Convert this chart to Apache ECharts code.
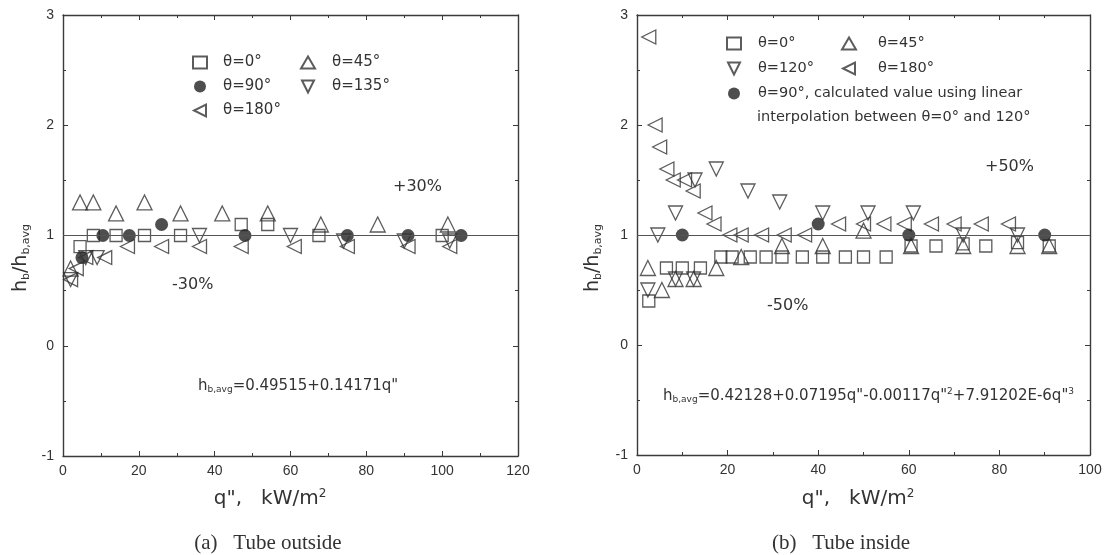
<!DOCTYPE html>
<html>
<head>
<meta charset="utf-8">
<script src="https://cdn.jsdelivr.net/npm/echarts@6/dist/echarts.min.js"></script>
<style>
  html, body { margin: 0; padding: 0; background: #fff; }
  #main { width: 1110px; height: 555px; }
</style>
</head>
<body>
<div id="main"></div>
<script>
// (a) tube outside : [q", hb/hb,avg]
var out0 = [[4.5, 0.9], [8, 1.0], [14, 1.0], [21.5, 1.0], [31, 1.0], [47, 1.1], [54, 1.1], [67.5, 1.0], [100, 1.0]]
var out45 = [[2, 0.7], [4.5, 1.3], [8, 1.3], [14, 1.2], [21.5, 1.3], [31, 1.2], [42, 1.2], [54, 1.2], [68, 1.1], [83, 1.1], [101.5, 1.1]]
var out90 = [[5, 0.8], [10.5, 1.0], [17.5, 1.0], [26, 1.1], [48, 1.0], [75, 1.0], [91, 1.0], [105, 1.0]]
var out135 = [[2, 0.6], [6, 0.8], [9, 0.8], [36, 1.0], [60, 1.0], [74, 0.95], [90, 0.95], [102, 0.95]]
var out180 = [[2, 0.6], [3.5, 0.7], [6, 0.8], [11, 0.8], [17, 0.9], [26, 0.9], [36, 0.9], [47, 0.9], [61, 0.9], [75, 0.9], [91, 0.9], [102, 0.9]]

// (b) tube inside
var in0 = [[2.6, 0.4], [6.5, 0.7], [10, 0.7], [14, 0.7], [18.5, 0.8], [21, 0.8], [25, 0.8], [28.5, 0.8], [32, 0.8], [36.5, 0.8], [41, 0.8], [46, 0.8], [50, 0.8], [55, 0.8], [60.5, 0.9], [66, 0.9], [72, 0.92], [77, 0.9], [84, 0.93], [91, 0.9]]
var in45 = [[2.4, 0.7], [5.5, 0.5], [8.5, 0.6], [12.5, 0.6], [17.5, 0.7], [23, 0.8], [32, 0.9], [41, 0.9], [50, 1.04], [60.5, 0.9], [72, 0.9], [84, 0.9], [91, 0.9]]
var in120 = [[2.4, 0.5], [4.6, 1.0], [8.5, 1.2], [8.5, 0.6], [12.5, 0.6], [12.8, 1.5], [17.5, 1.6], [24.5, 1.4], [31.5, 1.3], [41, 1.2], [51, 1.2], [61, 1.2], [72, 1.0], [84, 1.0]]
var in90 = [[10, 1.0], [40, 1.1], [60, 1.0], [90, 1.0]]
var in180 = [[2.6, 2.8], [4, 2.0], [5, 1.8], [6.6, 1.6], [8, 1.5], [10.5, 1.5], [12.4, 1.4], [15, 1.2], [17, 1.1], [20.5, 1.0], [23, 1.0], [27.5, 1.0], [32.5, 1.0], [37, 1.0], [44.5, 1.1], [50, 1.1], [54.5, 1.1], [59, 1.1], [65, 1.1], [70, 1.1], [76, 1.1], [82, 1.1]]

var yMin = -1
var yMax = 3
var xMaxOut = 120
var xMaxIn = 100

var FONT = '"Liberation Sans", Arial, sans-serif'
var WIDE = '"DejaVu Sans", sans-serif'
var SERIF = '"Liberation Serif", "Times New Roman", serif'
var INK = '#333'

// hollow marker shapes
var DOWN = 'path://M0,0L10,0L5,10Z'
var LEFT = 'path://M10,0L10,10L0,5Z'

var chart = echarts.init(document.getElementById('main'))

function xAxis(grid, max, pos, labels) {
  return {
    type: 'value',
    gridIndex: grid,
    position: pos,
    min: 0,
    max: max,
    interval: 20,
    axisLine: { show: true, onZero: false, lineStyle: { color: '#3a3a3a', width: 1.4 } },
    axisTick: { show: true, inside: true, length: 5, lineStyle: { color: '#3a3a3a' } },
    minorTick: { show: true, splitNumber: 2, length: 3, lineStyle: { color: '#3a3a3a' } },
    splitLine: { show: false },
    axisLabel: { show: labels, margin: 8, color: INK, fontSize: 14, fontFamily: FONT }
  }
}

function yAxis(grid, pos, labels) {
  return {
    type: 'value',
    gridIndex: grid,
    position: pos,
    min: yMin,
    max: yMax,
    interval: 1,
    axisLine: { show: true, onZero: false, lineStyle: { color: '#3a3a3a', width: 1.4 } },
    axisTick: { show: true, inside: true, length: 5, lineStyle: { color: '#3a3a3a' } },
    minorTick: { show: true, splitNumber: 2, length: 3, lineStyle: { color: '#3a3a3a' } },
    splitLine: { show: false },
    axisLabel: { show: labels, margin: 9, color: INK, fontSize: 14, fontFamily: FONT }
  }
}

// ax: 0 = outside panel, 2 = inside panel (bottom x / left y of that grid)
function sc(name, data, ax, symbol, filled, size) {
  return {
    name: name,
    type: 'scatter',
    xAxisIndex: ax,
    yAxisIndex: ax,
    data: data,
    symbol: symbol,
    symbolSize: size,
    itemStyle: {
      color: filled ? '#222' : 'rgba(255,255,255,0)',
      borderColor: '#333',
      borderWidth: filled ? 0 : 1.3
    },
    emphasis: { disabled: true }
  }
}

function oneLine(ax) {
  return {
    type: 'line',
    xAxisIndex: ax,
    yAxisIndex: ax,
    data: [],
    silent: true,
    markLine: {
      symbol: 'none',
      silent: true,
      label: { show: false },
      lineStyle: { color: '#555', type: 'solid', width: 1.2 },
      data: [{ yAxis: 1 }]
    }
  }
}

function legend(left, top, names, size, pad, gap) {
  return {
    left: left,
    top: top,
    orient: 'vertical',
    itemWidth: 14,
    itemHeight: 12,
    itemGap: gap,
    selectedMode: false,
    data: names,
    textStyle: { color: INK, fontSize: size, fontFamily: WIDE, padding: [0, 0, 0, pad] }
  }
}

function txt(x, y, text, size, opt) {
  opt = opt || {}
  var fam = opt.family || WIDE
  var small = Math.round(size * 0.58)
  return {
    type: 'text',
    x: x,
    y: y,
    rotation: opt.rot || 0,
    style: {
      text: text,
      fill: INK,
      fontSize: size,
      fontFamily: fam,
      align: opt.align || 'left',
      verticalAlign: 'middle',
      rich: {
        a: { fontSize: size, fontFamily: fam, color: INK },
        s: { fontSize: small, fontFamily: fam, color: INK, padding: [Math.round(size * 0.55), 0, 0, 0] },
        p: { fontSize: small, fontFamily: fam, color: INK, padding: [0, 0, Math.round(size * 0.55), 0] }
      }
    }
  }
}

chart.setOption({
  backgroundColor: '#fff',
  animation: false,
  grid: [
    { left: 63, right: 592, top: 15, bottom: 99 },
    { left: 637, right: 20, top: 15, bottom: 100 }
  ],
  xAxis: [
    xAxis(0, xMaxOut, 'bottom', true),
    xAxis(0, xMaxOut, 'top', false),
    xAxis(1, xMaxIn, 'bottom', true),
    xAxis(1, xMaxIn, 'top', false)
  ],
  yAxis: [
    yAxis(0, 'left', true),
    yAxis(0, 'right', false),
    yAxis(1, 'left', true),
    yAxis(1, 'right', false)
  ],
  legend: [
    legend(187, 50, ['θ=0°', 'θ=90°', 'θ=180°'], 15, 11, 9),
    legend(295, 50, ['θ=45°', 'θ=135°'], 15, 12, 9),
    legend(721, 31, ['θ=0°', 'θ=120°', 'θ=90°, calculated value using linear'], 14.5, 12, 10),
    legend(836, 31, ['θ=45°', 'θ=180°'], 14.5, 17, 10)
  ],
  graphic: [
    txt(21, 258, '{a|h}{s|b}{a|/h}{s|b,avg}', 19, { rot: Math.PI / 2, align: 'center' }),
    txt(593, 258, '{a|h}{s|b}{a|/h}{s|b,avg}', 19, { rot: Math.PI / 2, align: 'center' }),
    txt(393, 187, '+30%', 16),
    txt(172, 285, '-30%', 16),
    txt(985, 167, '+50%', 16),
    txt(767, 306, '-50%', 16),
    txt(198, 386, '{a|h}{s|b,avg}{a|=0.49515+0.14171q"}', 15),
    txt(663, 396, '{a|h}{s|b,avg}{a|=0.42128+0.07195q"-0.00117q"}{p|2}{a|+7.91202E-6q"}{p|3}', 15),
    txt(757, 117, 'interpolation between θ=0° and 120°', 14.5),
    txt(270, 499, '{a|q",   kW/m}{p|2}', 20, { align: 'center' }),
    txt(858, 499, '{a|q",   kW/m}{p|2}', 20, { align: 'center' }),
    txt(268, 543, '(a)   Tube outside', 21, { align: 'center', family: SERIF }),
    txt(841, 543, '(b)   Tube inside', 21, { align: 'center', family: SERIF })
  ],
  series: [
    oneLine(0),
    oneLine(2),
    sc('θ=0°', out0, 0, 'rect', false, 12),
    sc('θ=45°', out45, 0, 'triangle', false, 15),
    sc('θ=90°', out90, 0, 'circle', true, 13),
    sc('θ=135°', out135, 0, DOWN, false, 14),
    sc('θ=180°', out180, 0, LEFT, false, 14),
    sc('θ=0°', in0, 2, 'rect', false, 12),
    sc('θ=45°', in45, 2, 'triangle', false, 15),
    sc('θ=120°', in120, 2, DOWN, false, 14),
    sc('θ=180°', in180, 2, LEFT, false, 14),
    sc('θ=90°, calculated value using linear', in90, 2, 'circle', true, 13)
  ]
})
</script>
</body>
</html>
